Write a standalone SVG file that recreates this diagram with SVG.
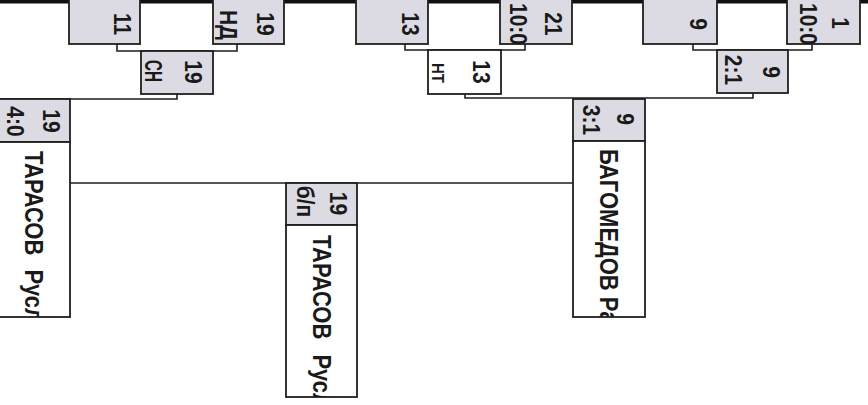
<svg xmlns="http://www.w3.org/2000/svg" width="868" height="405" viewBox="0 0 868 405">
<style>
.g{fill:#dcdbe3;stroke:#1e1e1e;stroke-width:1.8}
.w{fill:#ffffff;stroke:#1e1e1e;stroke-width:1.8}
.c{fill:none;stroke:#1e1e1e;stroke-width:1.6}
.t{font-family:"Liberation Sans",Arial,sans-serif;font-weight:bold;font-size:21px;fill:#1a1a1a}
.m{text-anchor:middle}
.n{font-size:22px}
</style>
<defs>
<clipPath id="c1" clipPathUnits="userSpaceOnUse"><rect x="-2" y="142" width="72" height="175"/></clipPath>
<clipPath id="c2" clipPathUnits="userSpaceOnUse"><rect x="286" y="225" width="71" height="172"/></clipPath>
<clipPath id="c3" clipPathUnits="userSpaceOnUse"><rect x="573" y="141" width="72" height="176"/></clipPath>
</defs>
<rect x="0" y="0" width="868" height="3.5" fill="#111"/>
<g id="connectors">
<path class="c" d="M117,44 V51 H237 V44"/>
<path class="c" d="M177,94 V99 H-2"/>
<path class="c" d="M405,44 V50 H525 V44"/>
<path class="c" d="M465,94 V98 H753 V93"/>
<path class="c" d="M693,44 V50 H812 V44"/>
<path class="c" d="M70,183 H573"/>
</g>
<g id="n11">
<rect class="g" x="69" y="-2" width="71" height="46"/>
<text class="t m" transform="translate(114,24) rotate(90) scale(1,1.15)">11</text>
</g>
<g id="n19nd">
<rect class="g" x="213" y="-2" width="71" height="46"/>
<text class="t m" transform="translate(257,24) rotate(90) scale(1,1.15)">19</text>
<text class="t m" transform="translate(220,25) rotate(90) scale(1,1.15)">НД</text>
</g>
<g id="n13">
<rect class="g" x="356" y="-2" width="72" height="46"/>
<text class="t m" transform="translate(402,24) rotate(90) scale(1,1.15)">13</text>
</g>
<g id="n21">
<rect class="g" x="500" y="-2" width="72" height="46"/>
<text class="t m" transform="translate(545,24) rotate(90) scale(1,1.15)">21</text>
<text class="t m" transform="translate(510,24) rotate(90) scale(1,1.15)">10:0</text>
</g>
<g id="n9">
<rect class="g" x="643" y="-2" width="74" height="46"/>
<text class="t m" transform="translate(690,24) rotate(90) scale(1,1.15)">9</text>
</g>
<g id="n1">
<rect class="g" x="787" y="-2" width="73" height="46"/>
<text class="t m" transform="translate(832,23) rotate(90) scale(1,1.15)">1</text>
<text class="t m" transform="translate(800,24) rotate(90) scale(1,1.15)">10:0</text>
</g>
<g id="n19sn">
<rect class="g" x="141" y="51" width="72" height="43"/>
<text class="t m" transform="translate(185,72) rotate(90) scale(1,1.15)">19</text>
<text class="t m" transform="translate(145,71) rotate(90) scale(1,1.15)" textLength="22" lengthAdjust="spacingAndGlyphs">СН</text>
</g>
<g id="n13nt">
<rect class="w" x="428" y="50" width="73" height="44"/>
<text class="t m" transform="translate(473,72) rotate(90) scale(1,1.15)">13</text>
<text class="t m" style="font-size:15px" transform="translate(432,73) rotate(90) scale(1,1.15)">НТ</text>
</g>
<g id="n9s">
<rect class="g" x="717" y="50" width="71" height="43"/>
<text class="t m" transform="translate(763,72) rotate(90) scale(1,1.15)">9</text>
<text class="t m" transform="translate(725,70) rotate(90) scale(1,1.15)">2:1</text>
</g>
<g id="tarasov-semi">
<rect class="g" x="-2" y="99" width="72" height="43"/>
<rect class="w" x="-2" y="142" width="72" height="175"/>
<text class="t m" transform="translate(43,121) rotate(90) scale(1,1.15)">19</text>
<text class="t m" transform="translate(7,121.5) rotate(90) scale(1,1.15)">4:0</text>
<g clip-path="url(#c1)"><text class="t n" transform="translate(25,151) rotate(90) scale(1,1.15)">ТАРАСОВ <tspan dx="8">Русл</tspan></text></g>
</g>
<g id="bagomedov">
<rect class="g" x="573" y="99" width="72" height="42"/>
<rect class="w" x="573" y="141" width="72" height="176"/>
<text class="t m" transform="translate(617,119) rotate(90) scale(1,1.15)">9</text>
<text class="t m" transform="translate(583,120) rotate(90) scale(1,1.15)">3:1</text>
<g clip-path="url(#c3)"><text class="t n" transform="translate(600,149) rotate(90) scale(1,1.15)">БАГОМЕДОВ Ра</text></g>
</g>
<g id="final">
<rect class="g" x="286" y="183" width="71" height="42"/>
<rect class="w" x="286" y="225" width="71" height="172"/>
<text class="t m" transform="translate(330,203.5) rotate(90) scale(1,1.15)">19</text>
<text class="t m" transform="translate(297,201.5) rotate(90) scale(1,1.15)">б/п</text>
<g clip-path="url(#c2)"><text class="t n" transform="translate(313,235) rotate(90) scale(1,1.15)">ТАРАСОВ <tspan dx="9">Русл</tspan></text></g>
</g>
</svg>
